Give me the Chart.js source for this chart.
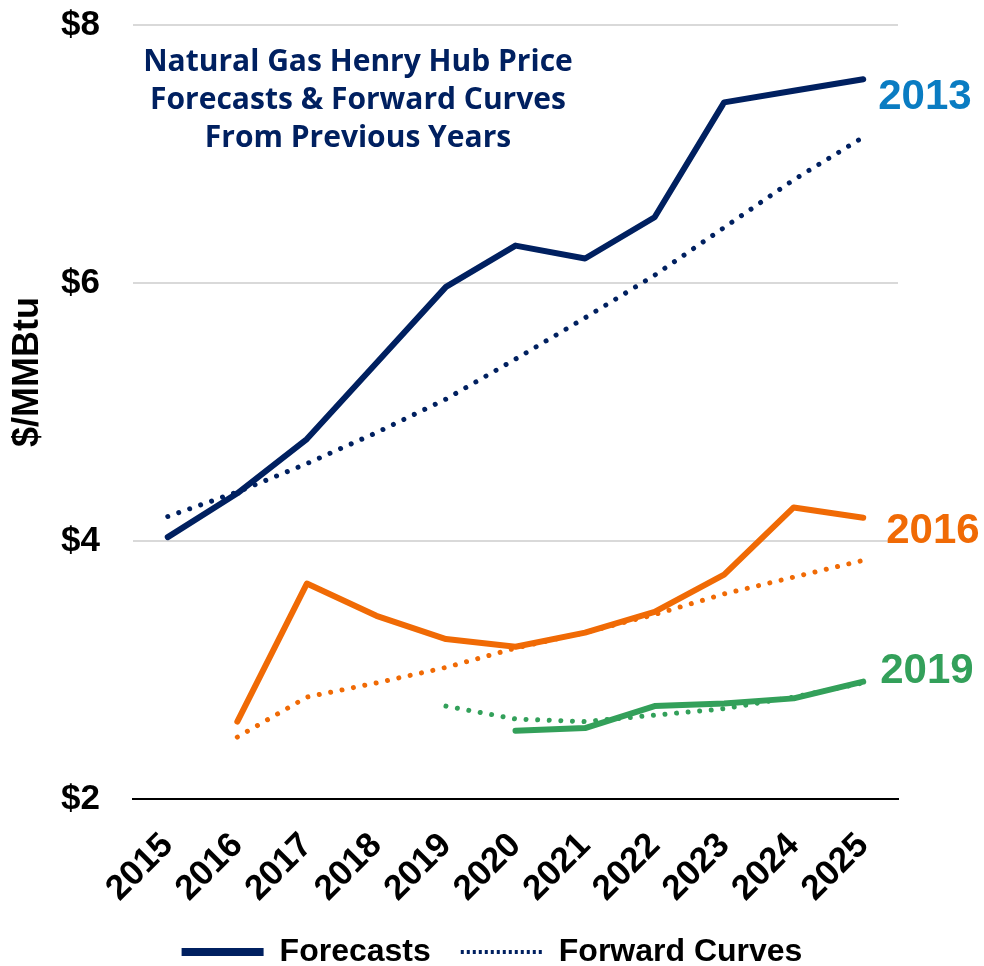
<!DOCTYPE html>
<html>
<head>
<meta charset="utf-8">
<script src="https://cdn.jsdelivr.net/npm/chart.js@4/dist/chart.umd.min.js"></script>
<style>
  html, body { margin: 0; padding: 0; background: #fff; }
  #wrap { width: 984px; height: 966px; }
</style>
</head>
<body>
<div id="wrap"><canvas id="grafico" width="984" height="966"></canvas></div>
<script>
// datos ($/MMBtu)
const anios = ['2015', '2016', '2017', '2018', '2019', '2020', '2021', '2022', '2023', '2024', '2025'];
const pronostico2013 = [4.03, 4.37, 4.79, 5.38, 5.97, 6.29, 6.19, 6.51, 7.40, 7.49, 7.58];
const futuros2013    = [4.19, 4.38, 4.60, 4.84, 5.10, 5.41, 5.73, 6.06, 6.43, 6.80, 7.13];
const pronostico2016 = [null, 2.60, 3.67, 3.42, 3.24, 3.18, 3.29, 3.45, 3.74, 4.26, 4.18];
const futuros2016    = [null, 2.48, 2.79, 2.90, 3.02, 3.17, 3.29, 3.43, 3.59, 3.72, 3.85];
const pronostico2019 = [null, null, null, null, null, 2.53, 2.55, 2.72, 2.74, 2.78, 2.91];
const futuros2019    = [null, null, null, null, 2.72, 2.62, 2.60, 2.65, 2.70, 2.79, 2.90];
const ticksY = [2, 4, 6, 8];
const etiquetasSerie = ['2013', '2016', '2019'];
const titulo = ['Natural Gas Henry Hub Price', 'Forecasts & Forward Curves', 'From Previous Years'];

const AZUL = '#002060';
const NARANJA = '#F06A05';
const VERDE = '#33A05A';
const colorEtiqueta = ['#0A7CC2', NARANJA, VERDE];
const desplazamiento = [[15, 18], [23, 14], [17, -10]];
const FUENTE = '"Liberation Sans", Arial';

function serieSolida(datos, color) {
  return {
    data: datos, borderColor: color, backgroundColor: color,
    borderWidth: 6, borderCapStyle: 'round', borderJoinStyle: 'round',
    pointRadius: 0, tension: 0, spanGaps: false
  };
}
function seriePunteada(datos, color) {
  return {
    data: datos, borderColor: color, backgroundColor: color,
    borderWidth: 5, borderCapStyle: 'round', borderDash: [0.01, 11.6],
    pointRadius: 0, tension: 0, spanGaps: false
  };
}

const textos = {
  id: 'textos',
  afterDraw(chart) {
    const ctx = chart.ctx;
    ctx.save();
    // titulo dentro del area
    ctx.fillStyle = AZUL;
    ctx.font = 'bold 30px "Open Sans"';
    ctx.textAlign = 'center';
    ctx.textBaseline = 'middle';
    titulo.forEach((t, i) => ctx.fillText(t, 358, 62 + i * 38));

    // titulo eje Y
    ctx.save();
    ctx.translate(28, 372);
    ctx.rotate(-Math.PI / 2);
    ctx.fillStyle = '#000';
    ctx.font = 'bold 36px ' + FUENTE;
    ctx.fillText('$/MMBtu', 0, 0);
    ctx.restore();

    // etiquetas al final de cada pronostico
    ctx.textAlign = 'left';
    ctx.font = 'bold 42px ' + FUENTE;
    [0, 2, 4].forEach((idx, k) => {
      const pts = chart.getDatasetMeta(idx).data;
      const p = pts[pts.length - 1];
      ctx.fillStyle = colorEtiqueta[k];
      ctx.fillText(etiquetasSerie[k], p.x + desplazamiento[k][0], p.y + desplazamiento[k][1]);
    });
    ctx.restore();
  }
};

new Chart(document.getElementById('grafico'), {
  type: 'line',
  data: {
    labels: anios,
    datasets: [
      serieSolida(pronostico2013, AZUL),
      seriePunteada(futuros2013, AZUL),
      serieSolida(pronostico2016, NARANJA),
      seriePunteada(futuros2016, NARANJA),
      serieSolida(pronostico2019, VERDE),
      seriePunteada(futuros2019, VERDE)
    ]
  },
  options: {
    responsive: false,
    animation: false,
    layout: { padding: { left: 0, right: 0, top: 25, bottom: -12 } },
    plugins: {
      tooltip: { enabled: false },
      legend: {
        position: 'bottom',
        onClick: null,
        labels: {
          usePointStyle: true,
          pointStyleWidth: 82,
          padding: 30,
          color: '#000',
          font: { family: FUENTE, size: 32, weight: 'bold' },
          generateLabels: () => [
            { text: 'Forecasts', pointStyle: 'line', strokeStyle: AZUL, fillStyle: AZUL,
              lineWidth: 8, lineDash: [], lineCap: 'butt', fontColor: '#000' },
            { text: 'Forward Curves', pointStyle: 'line', strokeStyle: AZUL, fillStyle: AZUL,
              lineWidth: 4, lineDash: [3, 3], lineCap: 'butt', fontColor: '#000' }
          ]
        }
      }
    },
    scales: {
      x: {
        offset: true,
        grid: { display: false, drawTicks: false },
        border: { display: true, color: '#000', width: 2 },
        ticks: {
          minRotation: 45, maxRotation: 45, padding: 26, color: '#000',
          font: { family: FUENTE, size: 35, weight: 'bold' }
        },
        afterFit: (eje) => {
          eje.height = 107;
          eje.paddingLeft = 0;
          eje.paddingRight = 86;
        }
      },
      y: {
        min: 2, max: 8,
        afterBuildTicks: (eje) => { eje.ticks = ticksY.map(v => ({ value: v })); },
        grid: { color: '#D9D9D9', lineWidth: 2, drawTicks: false },
        border: { display: false },
        ticks: {
          padding: 33, color: '#000',
          font: { family: FUENTE, size: 35, weight: 'bold' },
          callback: v => '$' + v
        },
        afterFit: (eje) => {
          eje.width = 133;
          eje.paddingTop = 0;
          eje.paddingBottom = 0;
        }
      }
    }
  },
  plugins: [textos]
});
</script>
</body>
</html>
